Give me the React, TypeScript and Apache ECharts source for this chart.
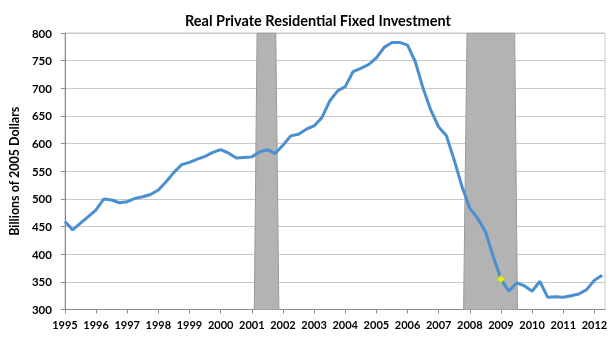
import React, { useEffect, useRef } from "react";
import * as echarts from "echarts";

const TITLE = "Real Private Residential Fixed Investment";
const Y_NAME = "Billions of 2005 Dollars";
const START_YEAR = 1995;
// Quarterly values, 1995Q1 .. 2012Q2 (billions of 2005 dollars)
const investment: number[] = [
  459, 444, 456, 468,
  480, 500, 498, 493,
  495, 501, 504, 508,
  516, 531, 548, 562,
  566, 572, 577, 584,
  589, 583, 574, 575,
  576, 585, 589, 582,
  597, 614, 617, 626,
  632, 647, 677, 695,
  703, 730, 736, 743,
  755, 774, 783, 783,
  778, 748, 700, 660,
  630, 614, 570, 522,
  483, 465, 441, 396,
  355, 333, 348, 343,
  333, 351, 322, 323,
  322, 325, 328, 336,
  353, 362,
];
// Recession bands (year fractions): [bottomStart, topStart, topEnd, bottomEnd]
const recession2001 = [2001.08, 2001.17, 2001.77, 2001.87];
const recession2008 = [2007.8, 2007.91, 2009.44, 2009.53];
const highlightPoint = [2009.0, 355];
const yTicks = { min: 300, max: 800, interval: 50 };

function bandData(b: number[]) {
  return [
    [b[0], yTicks.min],
    [b[1], yTicks.max],
    [b[2], yTicks.max],
    [b[3], yTicks.min],
  ];
}

export default function App() {
  const ref = useRef<HTMLDivElement>(null);
  useEffect(() => {
    if (!ref.current) return;
    const chart = echarts.init(ref.current, undefined, { renderer: "svg" });
    const lineData = investment.map((v, i) => [START_YEAR + i * 0.25, v]);
    const bandSeries = (b: number[]) => ({
      type: "line",
      data: bandData(b),
      symbol: "none",
      silent: true,
      z: 1,
      lineStyle: { color: "#9a9a9a", width: 1 },
      areaStyle: { color: "#b3b3b3", opacity: 1, origin: "start" },
    });
    chart.setOption({
      animation: false,
      title: {
        text: TITLE,
        left: 180,
        top: 8,
        textStyle: { fontFamily: "Lato", fontWeight: "bold", fontSize: 14.5, color: "#000" },
      },
      grid: { left: 57, right: 10, top: 33, bottom: 28.5, show: true, borderColor: "#c8c8c8", borderWidth: 1 },
      xAxis: {
        type: "value",
        min: 1995,
        max: 2012.34,
        interval: 1,
        axisLine: { show: true, lineStyle: { color: "#8c8c8c", width: 1 } },
        axisTick: { show: true, length: 4, lineStyle: { color: "#8c8c8c" } },
        splitLine: { show: false },
        axisLabel: {
          showMaxLabel: false,
          margin: 9,
          fontFamily: "Lato",
          fontWeight: "bold",
          fontSize: 11,
          color: "#000",
          formatter: (v: number) => (Math.abs(v - Math.round(v)) < 1e-6 ? String(Math.round(v)) : ""),
        },
      },
      yAxis: {
        type: "value",
        min: yTicks.min,
        max: yTicks.max,
        interval: yTicks.interval,
        name: Y_NAME,
        nameLocation: "middle",
        nameGap: 40,
        nameRotate: 90,
        nameTextStyle: { fontFamily: "Lato", fontWeight: "bold", fontSize: 12.5, color: "#000" },
        axisLine: { show: true, lineStyle: { color: "#8c8c8c", width: 1 } },
        axisTick: { show: true, length: 4, lineStyle: { color: "#8c8c8c" } },
        splitLine: { show: true, lineStyle: { color: "#c8c8c8", width: 1 } },
        axisLabel: { margin: 13, fontFamily: "Lato", fontWeight: "bold", fontSize: 11.5, color: "#000" },
      },
      series: [
        bandSeries(recession2001),
        bandSeries(recession2008),
        {
          type: "line",
          data: lineData,
          symbol: "none",
          z: 3,
          lineStyle: { color: "#4a8fd0", width: 3 },
        },
        {
          type: "scatter",
          data: [highlightPoint],
          symbol: "diamond",
          symbolSize: 8,
          z: 4,
          itemStyle: { color: "#ffff00", borderColor: "#c8b400", borderWidth: 0.6 },
        },
      ],
    });
    return () => chart.dispose();
  }, []);
  return (
    <div
      ref={ref}
      style={{ position: "fixed", left: 0, top: 0, width: 615, height: 338 }}
    />
  );
}
